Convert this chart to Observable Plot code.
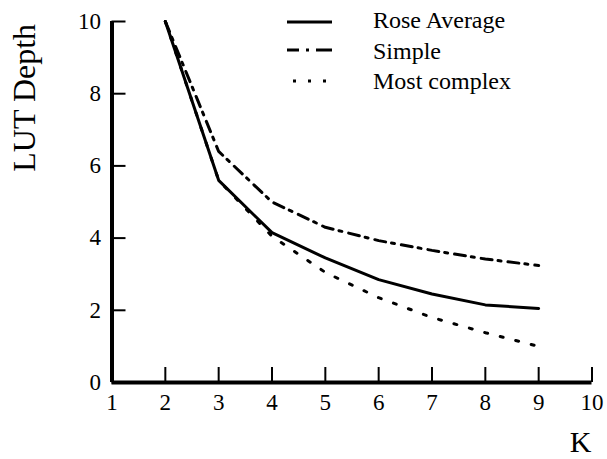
<!DOCTYPE html>
<html>
<head>
<meta charset="utf-8">
<script src="https://cdn.jsdelivr.net/npm/d3@7"></script>
<script src="https://cdn.jsdelivr.net/npm/@observablehq/plot@0.6"></script>
<style>
  html, body { margin: 0; padding: 0; background: #fff; }
  svg { display: block; }
</style>
</head>
<body>
<div id="chart"></div>
<script>
// Data
const K = [2, 3, 4, 5, 6, 7, 8, 9];
const roseAverage = [10, 5.6, 4.15, 3.45, 2.85, 2.45, 2.15, 2.05];
const simple = [10, 6.4, 5.0, 4.3, 3.93, 3.66, 3.42, 3.24];
const mostComplex = [10, 5.6, 4.05, 3.05, 2.35, 1.8, 1.38, 1.0];
const seriesNames = ["Rose Average", "Simple", "Most complex"];
const xTicks = [1, 2, 3, 4, 5, 6, 7, 8, 9, 10];
const yTicks = [0, 2, 4, 6, 8, 10];
const xLabel = "K";
const yLabel = "LUT Depth";

const seriesValues = [roseAverage, simple, mostComplex];
const styles = [
  {strokeWidth: 3, strokeDasharray: null},
  {strokeWidth: 3, strokeDasharray: "11,6,3,7"},
  {strokeWidth: 3, strokeDasharray: "3,13"}
];
const rows = seriesNames.flatMap((s, i) => K.map((k, j) => ({series: s, k, v: seriesValues[i][j]})));

const FONT = "'Liberation Serif', 'Times New Roman', serif";

const plot = Plot.plot({
  width: 607,
  height: 459,
  marginLeft: 111.5,
  marginRight: 15.5,
  marginTop: 21,
  marginBottom: 77,
  style: {fontFamily: FONT, color: "#000", background: "#fff", overflow: "visible"},
  x: {domain: [1, 10], label: null},
  y: {domain: [0, 10], label: null},
  marks: [
    // ticks (inward)
    Plot.axisX({ticks: xTicks, tickSize: -15, strokeWidth: 2, fill: "none", label: null}),
    Plot.axisY({ticks: yTicks, tickSize: -14, strokeWidth: 2, fill: "none", label: null}),
    // tick labels
    Plot.axisX({ticks: xTicks, tickSize: 0, tickPadding: 11, fontSize: 23, label: null}),
    Plot.axisY({ticks: yTicks, tickSize: 0, tickPadding: 11, fontSize: 23, label: null}),
    // axis lines
    Plot.ruleY([0], {strokeWidth: 4}),
    Plot.ruleX([1], {strokeWidth: 4}),
    // series
    ...seriesNames.map((s, i) =>
      Plot.line(rows.filter(d => d.series === s), {
        x: "k", y: "v", stroke: "#000",
        strokeWidth: styles[i].strokeWidth,
        strokeDasharray: styles[i].strokeDasharray,
        strokeLinejoin: "miter"
      })
    ),
    // axis titles
    Plot.text([xLabel], {frameAnchor: "bottom-right", text: d => d, dx: -11.5, dy: 59.5, fontSize: 30, textAnchor: "middle", lineAnchor: "middle"}),
    Plot.text([yLabel], {frameAnchor: "top-left", text: d => d, dx: -87.7, dy: 76.3, rotate: -90, fontSize: 32, textAnchor: "middle", lineAnchor: "middle"})
  ]
});

// Legend
const svg = d3.select(plot);
const legend = svg.append("g");
const legendLineY = [22, 50, 81];
const legendLineX = [[287, 332], [287, 332], [293, 326]];
const legendTextY = [28, 59, 89];
const legendDash = [null, "12,7,3,7,19", "3,12"];
seriesNames.forEach((s, i) => {
  legend.append("line")
    .attr("x1", legendLineX[i][0]).attr("x2", legendLineX[i][1])
    .attr("y1", legendLineY[i]).attr("y2", legendLineY[i])
    .attr("stroke", "#000").attr("stroke-width", 3)
    .attr("stroke-dasharray", legendDash[i]);
  legend.append("text")
    .attr("x", 373).attr("y", legendTextY[i])
    .style("font-family", FONT)
    .style("font-size", "24px")
    .style("text-anchor", "start")
    .style("fill", "#000")
    .text(s);
});

document.getElementById("chart").appendChild(plot);
</script>
</body>
</html>
